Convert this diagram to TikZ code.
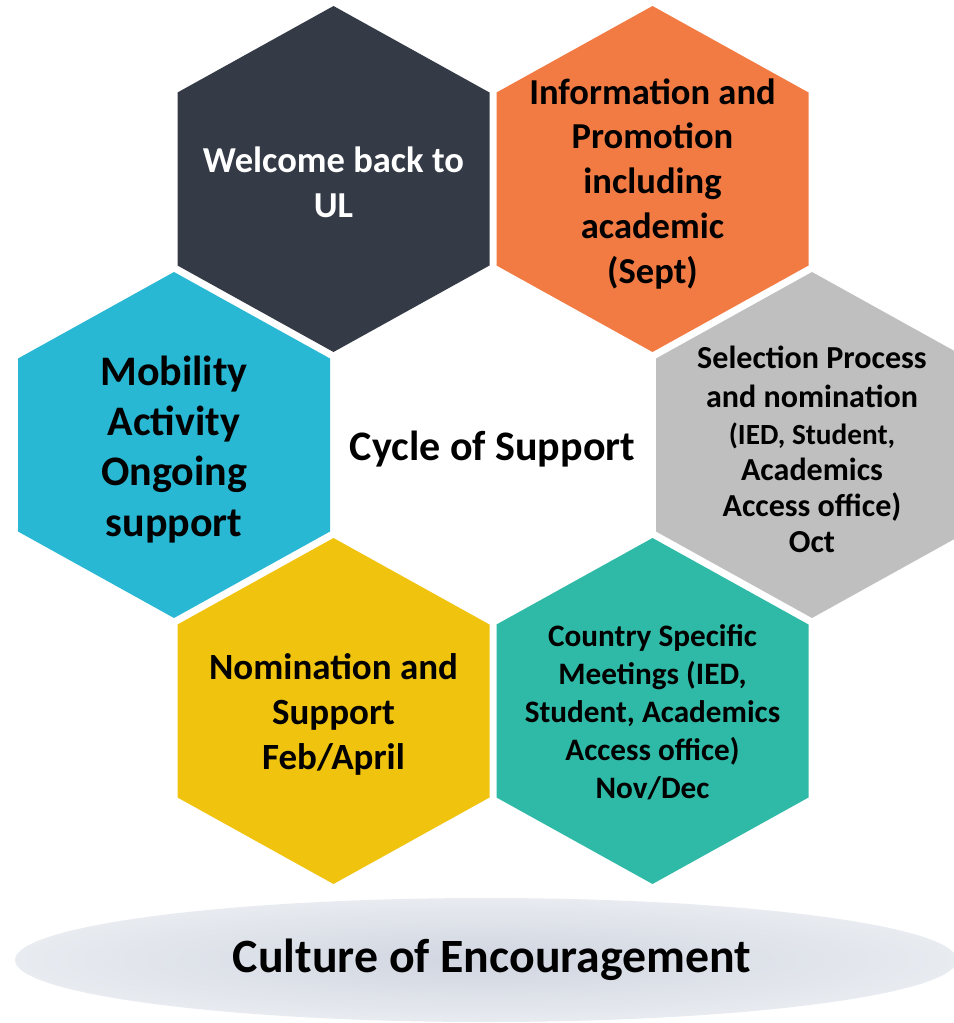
\documentclass[tikz,border=0pt]{standalone}
\usepackage{fontspec}
\setmainfont{Carlito}

\definecolor{celldark}{HTML}{343A46}
\definecolor{cellorange}{HTML}{F27A43}
\definecolor{cellgray}{HTML}{BFBFBF}
\definecolor{cellcyan}{HTML}{29B8D4}
\definecolor{cellyellow}{HTML}{F0C30F}
\definecolor{cellteal}{HTML}{2EBAA6}
\definecolor{baselight}{HTML}{E8EBF0}
\definecolor{basemid}{HTML}{D0D5E0}

\tikzset{
  celltext/.style={align=center, font=\bfseries\fontsize{26}{32}\selectfont},
  smalltext/.style={align=center, font=\bfseries\fontsize{22.2}{27}\selectfont},
}

\begin{document}
\begin{tikzpicture}[scale=0.25]
        \tikzstyle{every node}+=[inner sep=0pt]
        \useasboundingbox (0,0) rectangle (95.4,-102.3);
        % base
        \shade [inner color=basemid, outer color=baselight] (48.6,-96) ellipse (47.1 and 6.2);
        \node [font=\bfseries\fontsize{34}{40}\selectfont] (culture) at (49.2,-96) {Culture of Encouragement};
        % hexagon cells
        \foreach \cx/\cy/\col in {33.35/-17.9/celldark, 65.25/-17.9/cellorange, 17.4/-44.5/cellcyan,
                81.2/-44.5/cellgray, 33.35/-71.1/cellyellow, 65.25/-71.1/cellteal}
          \fill [\col] (\cx,\cy) ++(0,17.3) -- ++(15.6,-8.65) -- ++(0,-17.3) -- ++(-15.6,-8.65)
                -- ++(-15.6,8.65) -- ++(0,17.3) -- cycle;
        \node [celltext, text=white] (welcome) at (33.35,-18.2) {Welcome back to\\UL};
        \node [celltext] (promo) at (65.25,-18.4) {Information and\\Promotion\\including\\academic\\(Sept)};
        \node [celltext, font=\bfseries\fontsize{29.9}{35.6}\selectfont] (mobility) at (17.4,-44.95) {Mobility\\Activity\\Ongoing\\support};
        \node [smalltext, font=\bfseries\fontsize{22.8}{27.7}\selectfont] (select) at (81.2,-44.95)
                {Selection Process\\and nomination\\[-1.5pt]\fontsize{20.8}{23.5}\selectfont(IED, Student,\\[-2.5pt]Academics\\[-2pt]Access office)\\[-2pt]Oct};
        \node [celltext, font=\bfseries\fontsize{26.3}{32}\selectfont] (nominate) at (33.35,-71.4) {Nomination and\\Support\\Feb/April};
        \node [smalltext] (meetings) at (65.25,-71.2) {Country Specific\\Meetings (IED,\\Student, Academics\\Access office)\\Nov/Dec};
        % centre
        \node [font=\bfseries\fontsize{29.9}{36}\selectfont] (cycle) at (49.25,-44.9) {Cycle of Support};
\end{tikzpicture}
\end{document}
